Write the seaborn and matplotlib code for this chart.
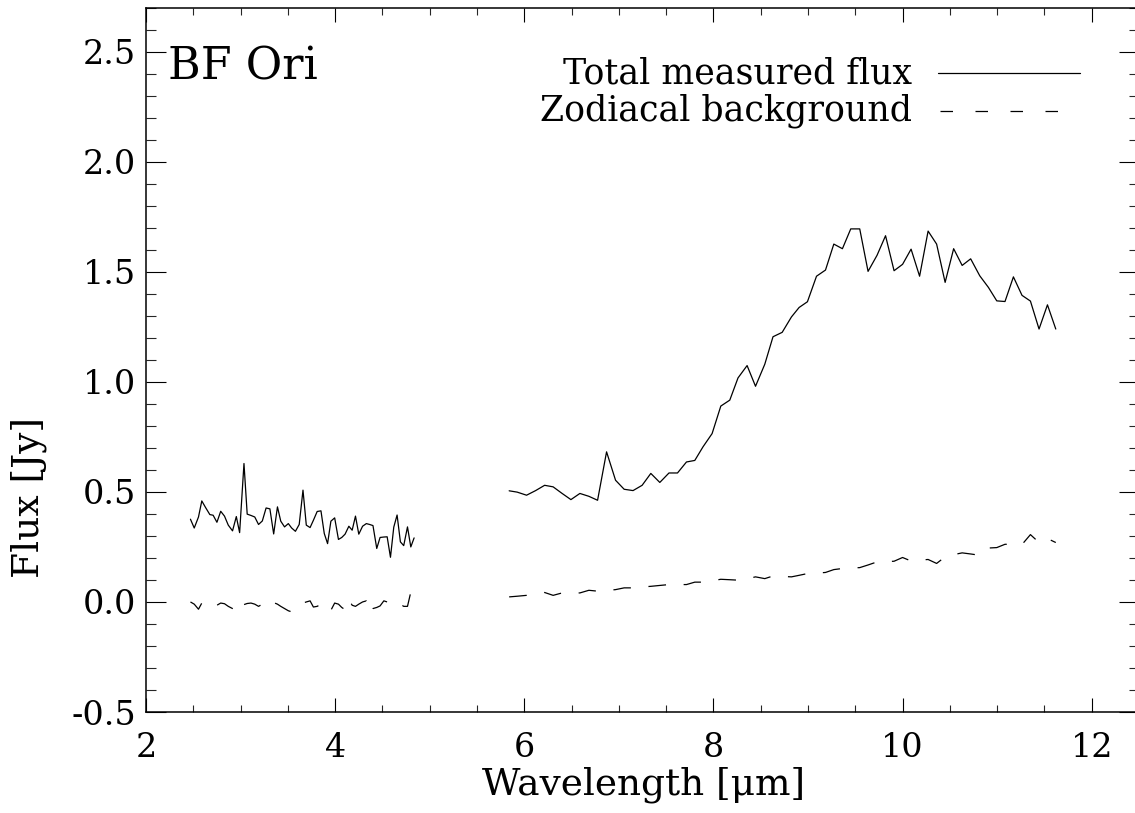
import numpy as np
import pandas as pd
import matplotlib
matplotlib.use("Agg")
import matplotlib.pyplot as plt
from matplotlib.ticker import MultipleLocator, FormatStrFormatter
import seaborn as sns

# Short-wavelength segment (um) and fluxes (Jy)
wave_short = [2.47, 2.51, 2.555, 2.59, 2.63, 2.675, 2.71, 2.75, 2.79, 2.83,
              2.87, 2.915, 2.955, 2.99, 3.036, 3.07, 3.11, 3.15, 3.19, 3.23,
              3.27, 3.31, 3.35, 3.39, 3.425, 3.465, 3.505, 3.54, 3.58, 3.62,
              3.66, 3.695, 3.735, 3.77, 3.81, 3.85, 3.885, 3.92, 3.955, 3.995,
              4.035, 4.07, 4.105, 4.145, 4.18, 4.215, 4.25, 4.29, 4.33, 4.365,
              4.4, 4.44, 4.475, 4.515, 4.55, 4.585, 4.62, 4.655, 4.69, 4.725,
              4.765, 4.8, 4.835]
total_short = [0.376, 0.336, 0.386, 0.459, 0.429, 0.397, 0.394, 0.362, 0.412, 0.39,
               0.349, 0.323, 0.388, 0.315, 0.629, 0.399, 0.393, 0.386, 0.352, 0.368,
               0.427, 0.423, 0.309, 0.432, 0.367, 0.341, 0.356, 0.336, 0.321, 0.352,
               0.508, 0.349, 0.338, 0.371, 0.411, 0.414, 0.311, 0.265, 0.367, 0.382,
               0.284, 0.293, 0.308, 0.344, 0.326, 0.39, 0.308, 0.344, 0.356, 0.352,
               0.347, 0.243, 0.293, 0.295, 0.296, 0.203, 0.34, 0.395, 0.273, 0.256,
               0.341, 0.25, 0.291]
zodi_short = [0.0, -0.01, -0.033, -0.005, -0.015, -0.02, -0.027, -0.015, -0.005, -0.008,
              -0.02, -0.03, -0.04, -0.05, -0.012, -0.007, -0.005, -0.01, -0.02, -0.01,
              0.0, -0.015, -0.003, -0.01, -0.02, -0.03, -0.04, -0.045, -0.035, -0.023,
              -0.005, 0.0, 0.005, -0.023, -0.02, -0.01, -0.005, -0.015, -0.038, -0.005,
              -0.01, -0.025, -0.035, 0.011, -0.015, -0.02, -0.01, 0.0, 0.005, -0.05,
              -0.03, -0.025, -0.018, 0.005, 0.0, 0.011, 0.005, 0.0, -0.01, -0.02,
              -0.02, 0.045, 0.04]

# Long-wavelength segment (um) and fluxes (Jy)
wave_long = [5.84, 5.925, 6.024, 6.12, 6.215, 6.305, 6.4, 6.493, 6.588, 6.683,
             6.775, 6.87, 6.965, 7.056, 7.15, 7.246, 7.338, 7.433, 7.53, 7.62,
             7.715, 7.803, 7.89, 7.986, 8.078, 8.173, 8.26, 8.356, 8.445, 8.543,
             8.63, 8.727, 8.825, 8.906, 8.994, 9.09, 9.185, 9.273, 9.364, 9.452,
             9.547, 9.635, 9.73, 9.82, 9.91, 10.0, 10.09, 10.18, 10.27, 10.36,
             10.45, 10.54, 10.63, 10.72, 10.816, 10.908, 10.996, 11.083, 11.172, 11.263,
             11.352, 11.443, 11.532, 11.62]
total_long = [0.505, 0.499, 0.485, 0.506, 0.53, 0.523, 0.493, 0.465, 0.493, 0.48,
              0.462, 0.682, 0.553, 0.512, 0.506, 0.53, 0.584, 0.543, 0.586, 0.586,
              0.636, 0.643, 0.705, 0.765, 0.89, 0.917, 1.018, 1.074, 0.98, 1.08,
              1.205, 1.225, 1.295, 1.338, 1.364, 1.48, 1.508, 1.626, 1.605, 1.695,
              1.695, 1.502, 1.575, 1.664, 1.505, 1.534, 1.603, 1.48, 1.685, 1.626,
              1.452, 1.605, 1.529, 1.559, 1.482, 1.429, 1.368, 1.365, 1.477, 1.393,
              1.367, 1.24, 1.35, 1.24]
zodi_long = [0.023, 0.026, 0.03, 0.037, 0.043, 0.03, 0.041, 0.041, 0.041, 0.053,
             0.049, 0.052, 0.056, 0.064, 0.064, 0.068, 0.071, 0.075, 0.079, 0.079,
             0.079, 0.09, 0.09, 0.096, 0.103, 0.101, 0.099, 0.105, 0.114, 0.106,
             0.118, 0.116, 0.114, 0.121, 0.129, 0.131, 0.134, 0.147, 0.152, 0.154,
             0.156, 0.168, 0.182, 0.183, 0.185, 0.202, 0.186, 0.19, 0.193, 0.175,
             0.205, 0.215, 0.223, 0.218, 0.212, 0.245, 0.247, 0.262, 0.262, 0.261,
             0.306, 0.27, 0.288, 0.27]

x_ticks = [2, 4, 6, 8, 10, 12]
y_ticks = [-0.5, 0.0, 0.5, 1.0, 1.5, 2.0, 2.5]

total_df = pd.DataFrame({
    "wave": wave_short + wave_long,
    "flux": total_short + total_long,
    "segment": ["short"] * len(wave_short) + ["long"] * len(wave_long),
})
zodi_df = pd.DataFrame({
    "wave": wave_short + wave_long,
    "flux": zodi_short + zodi_long,
    "segment": ["short"] * len(wave_short) + ["long"] * len(wave_long),
})

sns.set_theme(style="ticks")
plt.rcParams.update({
    "font.family": ["DejaVu Serif"],
    "mathtext.fontset": "dejavuserif",
    "axes.unicode_minus": False,
    "lines.scale_dashes": False,
    "axes.linewidth": 1.1,
    "axes.edgecolor": "black",
})

W, H = 1135, 813
fig = plt.figure(figsize=(W / 100, H / 100), dpi=100)
left, right, bottom, top = 146, 1139, 712, 7.7
ax = fig.add_axes([left / W, (H - bottom) / H, (right - left) / W, (bottom - top) / H])

sns.lineplot(data=total_df, x="wave", y="flux", units="segment", estimator=None,
             sort=False, color="black", linewidth=0.9, ax=ax)
sns.lineplot(data=zodi_df, x="wave", y="flux", units="segment", estimator=None,
             sort=False, color="black", linewidth=0.9,
             linestyle=(0, (12.7, 12.7)), ax=ax)

ax.set_xlim(2, 12.5)
ax.set_ylim(-0.5, 2.7)
ax.set_xticks(x_ticks)
ax.set_yticks(y_ticks)
ax.xaxis.set_minor_locator(MultipleLocator(0.5))
ax.yaxis.set_minor_locator(MultipleLocator(0.1))
ax.yaxis.set_major_formatter(FormatStrFormatter("%.1f"))
ax.xaxis.set_major_formatter(FormatStrFormatter("%d"))

ax.tick_params(axis="x", which="major", direction="in", length=10.1, width=0.8,
               top=True, bottom=True, labelsize=24, pad=14.4, colors="black")
ax.tick_params(axis="x", which="minor", direction="in", length=5.0, width=0.8,
               top=True, bottom=True)
ax.tick_params(axis="y", which="major", direction="in", length=14.4, width=0.8,
               left=True, right=True, labelsize=24, pad=7, colors="black")
ax.tick_params(axis="y", which="minor", direction="in", length=7.2, width=0.8,
               left=True, right=True)

ax.set_xlabel("Wavelength [\u03bcm]", fontsize=27, color="black")
ax.set_ylabel("Flux [Jy]", fontsize=27, color="black")
ax.xaxis.set_label_coords(0.501, -0.078)
ax.yaxis.set_label_coords(-0.1, 0.305)

for sp in ax.spines.values():
    sp.set_visible(True)
    sp.set_color("black")

def ax_x(px):
    return (px - left) / (right - left)

def ax_y(py):
    return (bottom - py) / (bottom - top)

# Object name
ax.text(ax_x(168), ax_y(79.3), "BF Ori", fontsize=32, ha="left", va="baseline",
        transform=ax.transAxes, color="black")

# Hand-drawn key in the upper right
ax.text(ax_x(912), ax_y(84), "Total measured flux", fontsize=25, ha="right",
        va="baseline", transform=ax.transAxes, color="black")
ax.text(ax_x(912), ax_y(120), "Zodiacal background", fontsize=25, ha="right",
        va="baseline", transform=ax.transAxes, color="black")
ax.plot([ax_x(938), ax_x(1080)], [ax_y(73), ax_y(73)], color="black",
        linewidth=0.9, transform=ax.transAxes)
ax.plot([ax_x(940), ax_x(1060)], [ax_y(111), ax_y(111)], color="black",
        linewidth=0.9, linestyle=(0, (9.0, 16.2)), transform=ax.transAxes)

fig.savefig("out.png", dpi=100, facecolor="white")
